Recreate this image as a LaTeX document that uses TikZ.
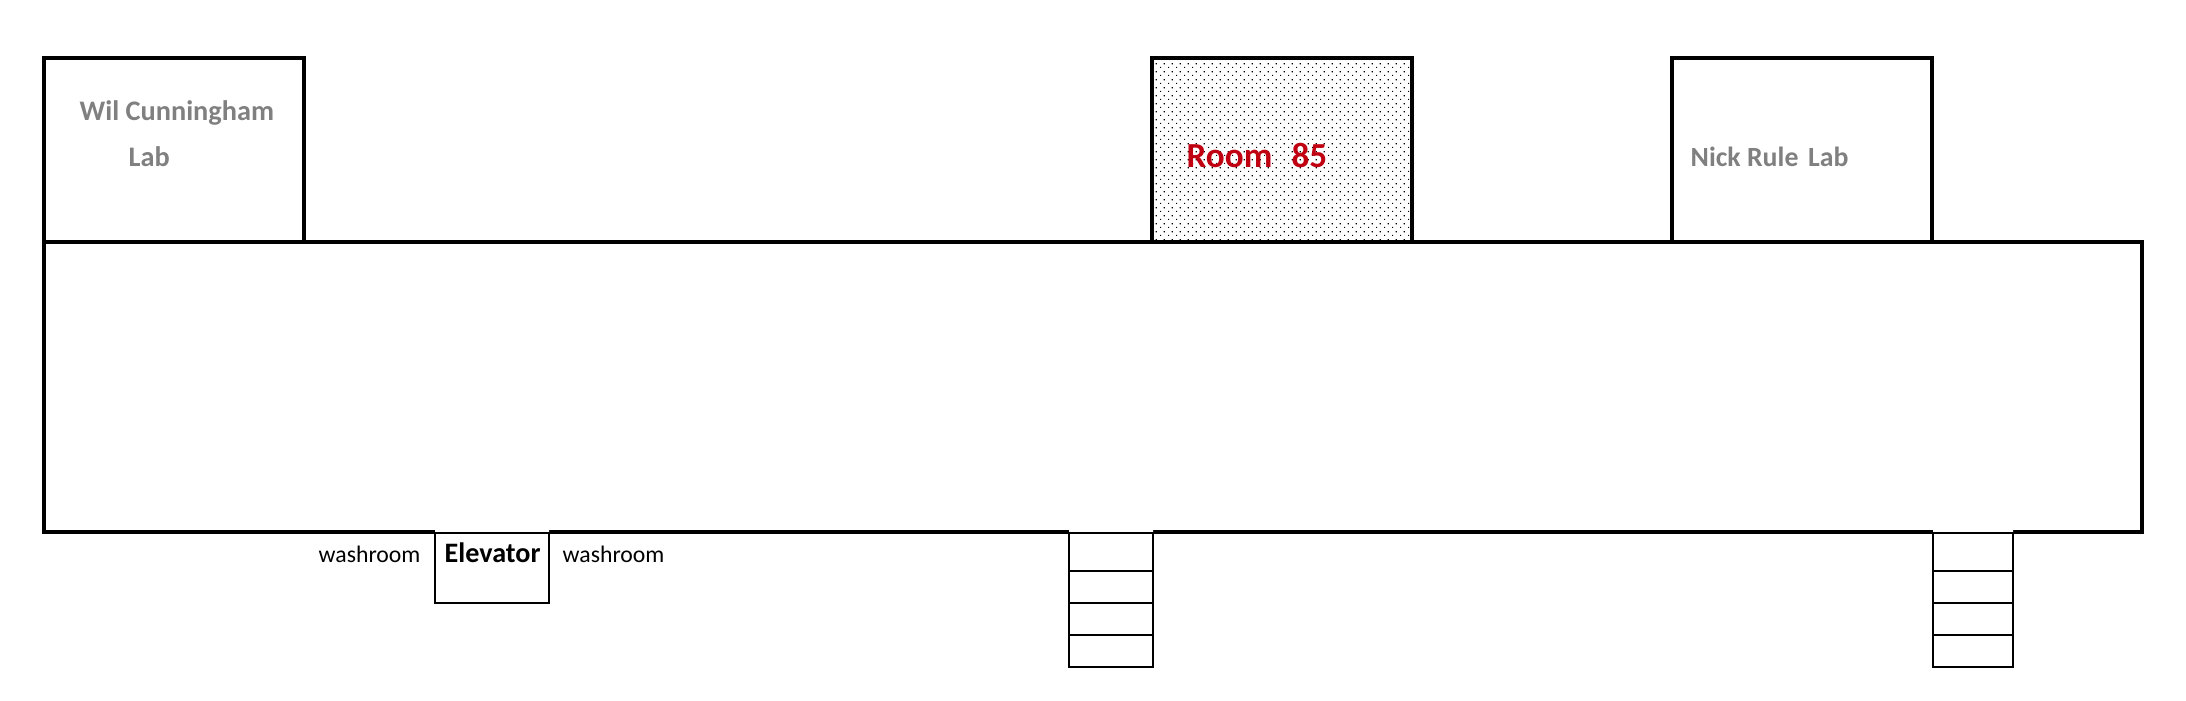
\documentclass[tikz,border=0pt]{standalone}
\usepackage{fontspec}
\setmainfont{Carlito}
\usepackage{tikz}
\usetikzlibrary{patterns}

\definecolor{labgray}{HTML}{808080}
\definecolor{roomred}{HTML}{C00010}

\pgfdeclarepatternformonly{roomdots}{\pgfqpoint{0pt}{0pt}}{\pgfqpoint{2.276pt}{2.276pt}}{\pgfqpoint{2.276pt}{2.276pt}}{
    \pgfpathrectangle{\pgfqpoint{0pt}{0pt}}{\pgfqpoint{0.38pt}{0.38pt}}
    \pgfpathrectangle{\pgfqpoint{1.138pt}{1.138pt}}{\pgfqpoint{0.38pt}{0.38pt}}
    \pgfusepath{fill}
}

\tikzset{
    wall/.style={draw,black,line width=1.14pt,inner sep=0pt,outer sep=0pt},
    thinbox/.style={draw,black,fill=white,line width=0.57pt,inner sep=0pt,outer sep=0pt},
    lablabel/.style={anchor=base west,inner sep=0pt,labgray,font=\fontsize{8.05}{9}\selectfont\bfseries},
    wclabel/.style={anchor=base west,inner sep=0pt,black,font=\fontsize{6.75}{8}\selectfont}
}

\begin{document}
\begin{tikzpicture}[x=0.01cm,y=-0.01cm]
    \useasboundingbox (0,0) rectangle (2186,700);

    \node[wall,minimum width=260*0.01cm,minimum height=184*0.01cm] (wil) at (174,150) {};
    \node[wall,pattern=roomdots,minimum width=260*0.01cm,minimum height=184*0.01cm] (room) at (1282,150) {};
    \node[wall,minimum width=260*0.01cm,minimum height=184*0.01cm] (nick) at (1802,150) {};
    \node[wall,fill=white,minimum width=2098*0.01cm,minimum height=290*0.01cm] (hall) at (1093,387) {};

    % gaps in the bottom wall
    \node[thinbox,minimum width=114*0.01cm,minimum height=70*0.01cm] (elevator) at (492,568) {};
    \path[draw=white,line width=0.57pt] (elevator.north west) ++(0,-2) -- ([yshift=0.57pt]elevator.north east);
    \draw[line width=0.57pt] (elevator.north west) -- (elevator.north east);

    \node[thinbox,minimum width=84*0.01cm,minimum height=38*0.01cm] (a1) at (1111,552) {};
    \node[thinbox,minimum width=84*0.01cm,minimum height=32*0.01cm] (a2) at (1111,587) {};
    \node[thinbox,minimum width=84*0.01cm,minimum height=32*0.01cm] (a3) at (1111,619) {};
    \node[thinbox,minimum width=84*0.01cm,minimum height=32*0.01cm] (a4) at (1111,651) {};
    \node[thinbox,minimum width=80*0.01cm,minimum height=38*0.01cm] (b1) at (1973,552) {};
    \node[thinbox,minimum width=80*0.01cm,minimum height=32*0.01cm] (b2) at (1973,587) {};
    \node[thinbox,minimum width=80*0.01cm,minimum height=32*0.01cm] (b3) at (1973,619) {};
    \node[thinbox,minimum width=80*0.01cm,minimum height=32*0.01cm] (b4) at (1973,651) {};
    \path[draw=white,line width=0.57pt]
    (a1.north west) ++(0,-2) -- ([yshift=0.57pt]a1.north east)
    (b1.north west) ++(0,-2) -- ([yshift=0.57pt]b1.north east);
    \draw[line width=0.57pt] (a1.north west) -- (a1.north east) (b1.north west) -- (b1.north east);

    \node[lablabel] (wiltext) at (79,120) {Wil Cunningham};
    \node[lablabel] (willab) at (128,166) {Lab};
    \node[lablabel,roomred,font=\fontsize{10}{12}\selectfont\bfseries] (roomtext) at (1186,167) {Room\hspace{0.32em} 85};
    \node[lablabel,font=\fontsize{7.9}{9}\selectfont\bfseries] (nicktext) at (1690,166) {Nick Rule\hspace{0.12em} Lab};
    \node[wclabel] (washleft) at (318,562) {washroom};
    \node[wclabel] (washright) at (562,562) {washroom};
    \node[wclabel,font=\fontsize{8}{9}\selectfont\bfseries] (elevatortext) at (444,562) {Elevator};
\end{tikzpicture}
\end{document}
